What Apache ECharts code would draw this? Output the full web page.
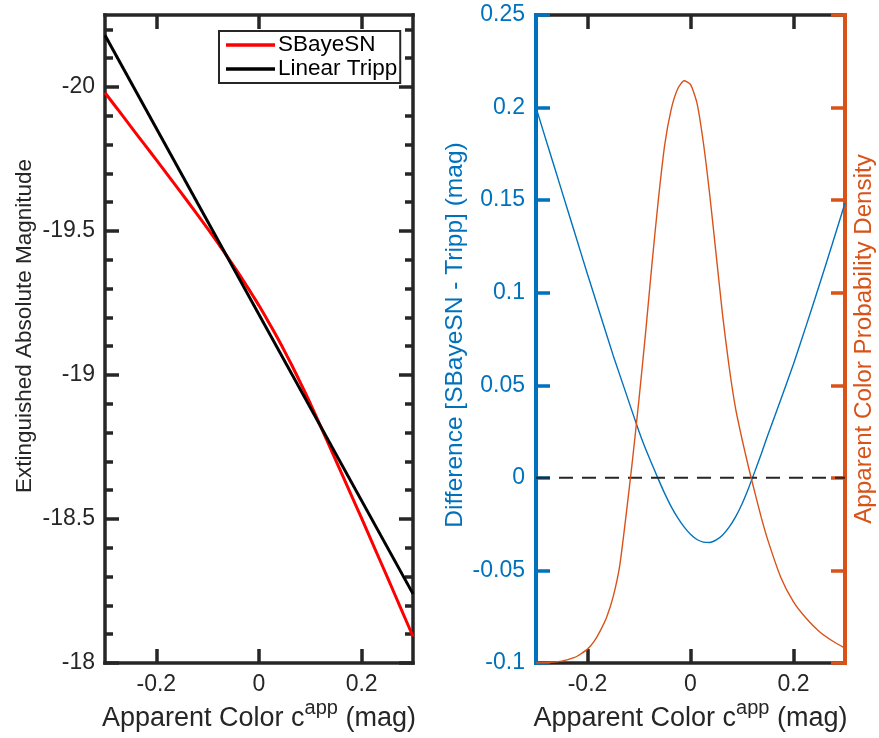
<!DOCTYPE html>
<html>
<head>
<meta charset="utf-8">
<script src="https://cdn.jsdelivr.net/npm/echarts@6/dist/echarts.min.js"></script>
<style>
  html, body { margin: 0; padding: 0; background: #ffffff; }
  #chart { width: 879px; height: 738px; }
</style>
</head>
<body>
<div id="chart"></div>
<script>
// Apparent colour grid (mag) shared by the model curves
const colorGrid = [-0.3, -0.275, -0.25, -0.225, -0.2, -0.175, -0.15, -0.125, -0.1,
  -0.0875, -0.075, -0.0625, -0.05, -0.0375, -0.025, -0.0125, 0, 0.0125, 0.025, 0.0375, 0.05,
  0.0625, 0.075, 0.0875, 0.1, 0.1125, 0.125, 0.1375, 0.15,
  0.175, 0.2, 0.225, 0.25, 0.275, 0.3];

// SBayeSN extinguished absolute magnitude
const sbayesnMag = [-19.980, -19.922, -19.863, -19.805, -19.747, -19.688, -19.629, -19.569, -19.508,
  -19.477, -19.445, -19.413, -19.380, -19.347, -19.312, -19.277, -19.241, -19.203, -19.164, -19.124, -19.082,
  -19.039, -18.994, -18.948, -18.901, -18.852, -18.802, -18.752, -18.702,
  -18.602, -18.502, -18.400, -18.298, -18.195, -18.092];

// Linear Tripp relation (straight line through its end points)
const trippColor = [-0.3, 0.3];
const trippMag = [-20.180, -18.240];

// Difference SBayeSN - Tripp (mag)
const diffMag = [0.200, 0.1775, 0.155, 0.1325, 0.110, 0.088, 0.066, 0.0455, 0.025,
  0.0158, 0.0075, -0.0007, -0.0085, -0.0155, -0.0215, -0.0265, -0.0305, -0.0333, -0.0347, -0.0349, -0.0335,
  -0.0308, -0.0266, -0.0211, -0.0141, -0.0057, 0.0035, 0.013, 0.023,
  0.042, 0.0615, 0.0825, 0.104, 0.126, 0.1485];

// Apparent colour probability density
const densityColor = [-0.3, -0.275, -0.25, -0.225, -0.2125, -0.2, -0.1875, -0.175, -0.1625, -0.15,
  -0.1375, -0.125, -0.1125, -0.1, -0.0875, -0.075, -0.0625, -0.05, -0.0375, -0.025, -0.0125, 0,
  0.0125, 0.025, 0.0375, 0.05, 0.0625, 0.075, 0.0875, 0.1, 0.1125, 0.125, 0.1375, 0.15,
  0.175, 0.2, 0.225, 0.25, 0.275, 0.3];
const density = [0, 0.005, 0.02, 0.06, 0.10, 0.15, 0.23, 0.35, 0.50, 0.72,
  1.05, 1.6, 2.2, 2.85, 3.55, 4.3, 5.0, 5.6, 5.98, 6.2, 6.29, 6.25,
  6.05, 5.62, 5.05, 4.4, 3.75, 3.2, 2.75, 2.42, 2.12, 1.84, 1.57, 1.33,
  0.93, 0.66, 0.48, 0.34, 0.24, 0.16];

// Zero reference for the difference panel
const zeroColor = [-0.3, 0.3];
const zeroLevel = [0, 0];

// Tick positions
const colorTicks = [-0.2, 0, 0.2];
const magTicks = [-20, -19.5, -19, -18.5, -18];
const magMinorTicks = [-20.2, -20.1, -19.9, -19.8, -19.7, -19.6, -19.4, -19.3, -19.2, -19.1,
  -18.9, -18.8, -18.7, -18.6, -18.4, -18.3, -18.2, -18.1];

const FONT = '"Liberation Sans", Arial, Helvetica, sans-serif';
const AX = '#262626';
const BLUE = '#0072BD';
const ORANGE = '#D95319';

const pairs = (xs, ys) => xs.map((x, i) => [x, ys[i]]);

const colorName = 'Apparent Color c{sup|app} (mag)';
const colorNameStyle = {
  fontFamily: FONT, fontSize: 27, color: AX, lineHeight: 30,
  rich: { sup: { fontFamily: FONT, fontSize: 20, color: AX, lineHeight: 10, padding: [0, 0, 21, 0] } }
};

function colorAxis(gridIndex, position, withLabels) {
  const ax = {
    type: 'value', gridIndex, position, min: -0.3, max: 0.3, z: 1,
    axisLine: { show: true, onZero: false, lineStyle: { color: AX, width: 3.5, cap: 'square' } },
    axisTick: { show: true, inside: true, length: 14, customValues: colorTicks, lineStyle: { color: AX, width: 3.5 } },
    axisLabel: { show: withLabels, customValues: colorTicks, margin: 10, fontFamily: FONT, fontSize: 23, lineHeight: 24, color: AX },
    splitLine: { show: false }
  };
  if (withLabels) {
    ax.name = colorName;
    ax.nameLocation = 'middle';
    ax.nameGap = 41;
    ax.nameMoveOverlap = false;
    ax.nameTextStyle = colorNameStyle;
  }
  return ax;
}

function magAxis(position, ticks, len, withLabels, showLine) {
  const ax = {
    type: 'value', gridIndex: 0, position, inverse: true, min: -20.25, max: -18, z: 2,
    axisLine: { show: showLine, onZero: false, lineStyle: { color: AX, width: 3.5, cap: 'square' } },
    axisTick: { show: true, inside: true, length: len, customValues: ticks, lineStyle: { color: AX, width: 3.5 } },
    axisLabel: { show: withLabels, customValues: ticks, margin: 10, fontFamily: FONT, fontSize: 23, lineHeight: 24, color: AX },
    splitLine: { show: false }
  };
  if (withLabels) {
    ax.name = 'Extinguished Absolute Magnitude';
    ax.nameLocation = 'middle';
    ax.nameRotate = 90;
    ax.nameGap = 68;
    ax.nameMoveOverlap = false;
    ax.nameTextStyle = { fontFamily: FONT, fontSize: 22.5, color: AX, lineHeight: 24, padding: [0, 0, 0, 26] };
  }
  return ax;
}

const option = {
  animation: false,
  backgroundColor: '#ffffff',
  grid: [
    { left: 105, top: 15, width: 308, height: 648, outerBoundsMode: 'none', containLabel: false },
    { left: 536, top: 15, width: 309, height: 648, outerBoundsMode: 'none', containLabel: false }
  ],
  legend: {
    data: ['SBayeSN', 'Linear Tripp'],
    orient: 'vertical',
    left: 219, top: 31,
    padding: [2, 3, 2, 7],
    itemGap: 0,
    itemWidth: 49, itemHeight: 3.5,
    icon: 'rect',
    backgroundColor: '#ffffff',
    borderColor: AX, borderWidth: 2, borderRadius: 0,
    textStyle: { fontFamily: FONT, fontSize: 22.5, lineHeight: 24, color: '#000000', padding: [0, 0, 0, -2] }
  },
  xAxis: [
    colorAxis(0, 'bottom', true),
    colorAxis(0, 'top', false),
    colorAxis(1, 'bottom', true),
    colorAxis(1, 'top', false)
  ],
  yAxis: [
    magAxis('left', magTicks, 14, true, true),
    magAxis('right', magTicks, 14, false, true),
    magAxis('left', magMinorTicks, 8, false, false),
    magAxis('right', magMinorTicks, 8, false, false),
    {
      type: 'value', gridIndex: 1, position: 'left', min: -0.1, max: 0.25, interval: 0.05, z: 3,
      axisLine: { show: true, onZero: false, lineStyle: { color: BLUE, width: 4, cap: 'square' } },
      axisTick: { show: true, inside: true, length: 14, lineStyle: { color: BLUE, width: 3.5 } },
      axisLabel: { show: true, margin: 11, fontFamily: FONT, fontSize: 23, lineHeight: 24, color: BLUE },
      splitLine: { show: false },
      name: 'Difference [SBayeSN - Tripp] (mag)',
      nameLocation: 'middle', nameRotate: 90, nameGap: 68, nameMoveOverlap: false,
      nameTextStyle: { fontFamily: FONT, fontSize: 24.5, color: BLUE, lineHeight: 26, padding: [0, 0, 0, 8] }
    },
    {
      type: 'value', gridIndex: 1, position: 'right', min: 0, max: 7, interval: 1, z: 3,
      axisLine: { show: true, onZero: false, lineStyle: { color: ORANGE, width: 4, cap: 'square' } },
      axisTick: { show: true, inside: true, length: 14, lineStyle: { color: ORANGE, width: 3.5 } },
      axisLabel: { show: false },
      splitLine: { show: false },
      name: 'Apparent Color Probability Density',
      nameLocation: 'middle', nameRotate: 90, nameGap: 6, nameMoveOverlap: false,
      nameTextStyle: { fontFamily: FONT, fontSize: 24.2, color: ORANGE, lineHeight: 26 }
    }
  ],
  series: [
    {
      name: 'SBayeSN', type: 'line', xAxisIndex: 0, yAxisIndex: 0,
      data: pairs(colorGrid, sbayesnMag), smooth: 0.2, showSymbol: false, z: 3,
      lineStyle: { color: '#FF0000', width: 3 }, itemStyle: { color: '#FF0000' }
    },
    {
      name: 'Linear Tripp', type: 'line', xAxisIndex: 0, yAxisIndex: 0,
      data: pairs(trippColor, trippMag), showSymbol: false, z: 4,
      lineStyle: { color: '#000000', width: 3 }, itemStyle: { color: '#000000' }
    },
    {
      name: 'Difference', type: 'line', xAxisIndex: 2, yAxisIndex: 4,
      data: pairs(colorGrid, diffMag), smooth: 0.2, showSymbol: false, z: 3,
      lineStyle: { color: BLUE, width: 1.4 }, itemStyle: { color: BLUE }
    },
    {
      name: 'Zero', type: 'line', xAxisIndex: 2, yAxisIndex: 4,
      data: pairs(zeroColor, zeroLevel), showSymbol: false, z: 4,
      lineStyle: { color: AX, width: 2, type: [14, 9] }, itemStyle: { color: AX }
    },
    {
      name: 'Density', type: 'line', xAxisIndex: 2, yAxisIndex: 5,
      data: pairs(densityColor, density), smooth: 0.2, showSymbol: false, z: 5,
      lineStyle: { color: ORANGE, width: 1.4 }, itemStyle: { color: ORANGE }
    }
  ]
};

const chart = echarts.init(document.getElementById('chart'), null, { renderer: 'canvas' });
chart.setOption(option);
</script>
</body>
</html>
